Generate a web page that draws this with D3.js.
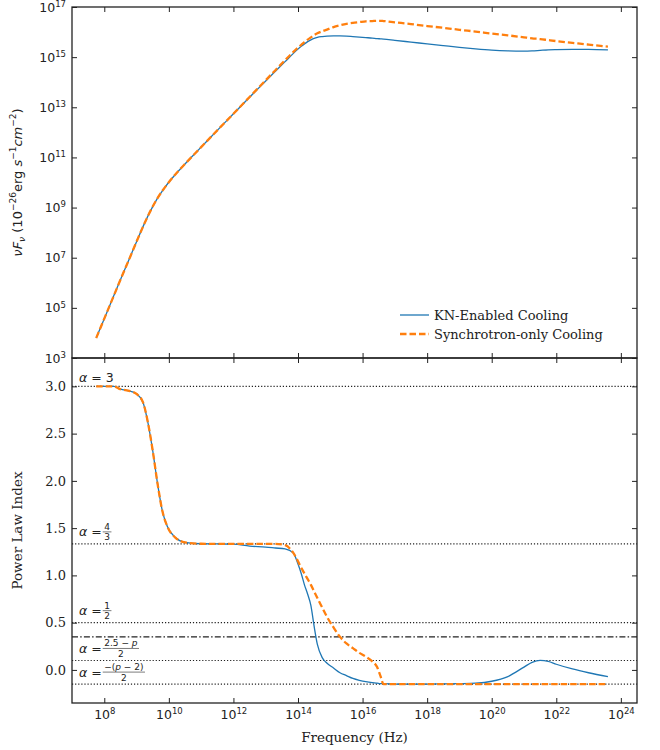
<!DOCTYPE html>
<html><head><meta charset="utf-8">
<script src="https://cdn.jsdelivr.net/npm/d3@7"></script>
<style>body{margin:0;background:#fff}text{font-family:"DejaVu Serif",serif;fill:#222}.m{font-family:"DejaVu Sans",sans-serif}</style>
</head><body><svg id="c" width="660" height="750"></svg>
<script>
// ---------- DATA ----------
// log10 of frequency (Hz)
const logFreq = [7.75,8.0,8.3,8.5,8.8,9.0,9.2,9.35,9.5,9.65,9.8,9.95,10.2,10.5,11.0,11.5,12.0,12.5,13.0,13.3,13.6,13.85,14.0,14.1,14.2,14.3,14.4,14.5,14.6,14.75,14.9,15.1,15.3,15.5,15.7,15.9,16.1,16.3,16.45,16.55,16.65,17.0,17.5,18.0,18.5,19.0,19.5,20.0,20.5,21.0,21.25,21.5,21.75,22.0,22.5,23.0,23.6];
// log10 of nuF_nu (1e-26 erg s^-1 cm^-2)
const knFluxExp = [3.8,4.57,5.5,6.12,7.03,7.64,8.24,8.66,9.04,9.38,9.67,9.93,10.32,10.74,11.41,12.08,12.74,13.40,14.05,14.44,14.82,15.14,15.32,15.43,15.53,15.62,15.69,15.75,15.79,15.82,15.84,15.85,15.85,15.84,15.82,15.80,15.78,15.76,15.74,15.73,15.72,15.67,15.60,15.53,15.46,15.39,15.33,15.28,15.25,15.24,15.25,15.27,15.29,15.30,15.31,15.31,15.29];
const synFluxExp = [3.8,4.57,5.5,6.12,7.03,7.64,8.24,8.66,9.04,9.38,9.67,9.93,10.32,10.74,11.41,12.08,12.74,13.41,14.08,14.48,14.88,15.20,15.38,15.49,15.60,15.70,15.79,15.88,15.95,16.03,16.10,16.20,16.27,16.33,16.37,16.40,16.43,16.44,16.45,16.45,16.44,16.39,16.32,16.24,16.17,16.09,16.02,15.94,15.87,15.79,15.75,15.72,15.68,15.64,15.57,15.50,15.42];
// power-law index
const knIndex = [3.0,3.0,3.0,2.97,2.95,2.92,2.83,2.62,2.32,1.97,1.68,1.52,1.40,1.35,1.335,1.333,1.33,1.31,1.30,1.29,1.28,1.24,1.12,1.02,0.90,0.80,0.68,0.46,0.27,0.13,0.07,0.02,-0.03,-0.06,-0.09,-0.11,-0.125,-0.135,-0.14,-0.145,-0.145,-0.15,-0.15,-0.15,-0.148,-0.145,-0.14,-0.12,-0.07,0.03,0.08,0.10,0.09,0.06,0.01,-0.03,-0.07];
const synIndex = [3.0,3.0,3.0,2.97,2.95,2.92,2.83,2.62,2.32,1.97,1.68,1.52,1.40,1.35,1.335,1.333,1.333,1.333,1.333,1.333,1.32,1.24,1.15,1.08,1.02,0.96,0.90,0.83,0.76,0.66,0.56,0.45,0.35,0.28,0.23,0.18,0.14,0.09,0.03,-0.06,-0.15,-0.15,-0.15,-0.15,-0.15,-0.15,-0.15,-0.15,-0.15,-0.15,-0.15,-0.15,-0.15,-0.15,-0.15,-0.15,-0.15];
const seriesNames = ["KN-Enabled Cooling","Synchrotron-only Cooling"];
const xTickExp = [8,10,12,14,16,18,20,22,24];
const yTopTickExp = [3,5,7,9,11,13,15,17];
const yBotTicks = [0.0,0.5,1.0,1.5,2.0,2.5,3.0];
const refValues = [3, 4/3, 1/2, 0.35, 0.1, -0.15];
const refKinds = ["dotted","dotted","dotted","dashdot","dotted","dotted"];
const refNum = ["3","4","1",null,"2.5 − p","−(p − 2)"];
const refDen = [null,"3","2",null,"2","2"];

// ---------- LAYOUT ----------
const L=72, R=637, T1=7, B1=358, B2=703;
const svg=d3.select("#c");
const x=d3.scaleLog().domain([1e7,10**24.5]).range([L,R]);
const yT=d3.scaleLog().domain([1e3,1e17]).range([B1,T1]);
const yB=d3.scaleLinear().domain([-0.35,3.3]).range([B2,B1]);
const colors=["#1f77b4","#ff7f0e"];

function supLabels(g){
  g.selectAll(".tick text").each(function(d){
    const e=Math.round(Math.log10(d));
    const t=d3.select(this).text(null).attr("class","m").attr("font-size","12.5px");
    t.append("tspan").text("10");
    t.append("tspan").attr("dy","-0.55em").attr("font-size","8.5px").text(e);
  });
}
function styleAxis(g){
  g.select(".domain").remove();
  g.selectAll(".tick line").attr("stroke","#222").attr("stroke-width",1);
  g.selectAll(".tick text").attr("font-size","13px").attr("fill","#333").attr("font-family",null);
}
const xt = xTickExp.map(e=>10**e);
// top panel axes
svg.append("g").attr("transform",`translate(0,${B1})`).call(d3.axisBottom(x).tickValues(xt).tickSize(-5).tickFormat("")).call(styleAxis);
svg.append("g").attr("transform",`translate(0,${T1})`).call(d3.axisTop(x).tickValues(xt).tickSize(-5).tickFormat("")).call(styleAxis);
svg.append("g").attr("transform",`translate(${L},0)`).call(d3.axisLeft(yT).tickValues(yTopTickExp.map(e=>10**e)).tickSize(-5).tickPadding(6)).call(styleAxis).call(supLabels);
svg.append("g").attr("transform",`translate(${R},0)`).call(d3.axisRight(yT).tickValues(yTopTickExp.map(e=>10**e)).tickSize(-5).tickFormat("")).call(styleAxis);
// bottom panel axes
svg.append("g").attr("transform",`translate(0,${B2})`).call(d3.axisBottom(x).tickValues(xt).tickSize(-5).tickPadding(7)).call(styleAxis).call(supLabels);
svg.append("g").attr("transform",`translate(0,${B1})`).call(d3.axisTop(x).tickValues(xt).tickSize(-5).tickFormat("")).call(styleAxis);
svg.append("g").attr("transform",`translate(${L},0)`).call(d3.axisLeft(yB).tickValues(yBotTicks).tickSize(-5).tickPadding(6).tickFormat(d3.format(".1f"))).call(styleAxis);
svg.append("g").attr("transform",`translate(${R},0)`).call(d3.axisRight(yB).tickValues(yBotTicks).tickSize(-5).tickFormat("")).call(styleAxis);

// reference lines
const dashes={dotted:"1.2,1.9",dashdot:"6,2.2,1.5,2.2"};
refValues.forEach((v,i)=>{
  svg.append("line").attr("x1",L).attr("x2",R).attr("y1",yB(v)).attr("y2",yB(v))
    .attr("stroke","#222").attr("stroke-width",1.1).attr("stroke-dasharray",dashes[refKinds[i]]);
});

// curves
svg.append("clipPath").attr("id","cT").append("rect").attr("x",L).attr("y",T1).attr("width",R-L).attr("height",B1-T1);
svg.append("clipPath").attr("id","cB").append("rect").attr("x",L).attr("y",B1).attr("width",R-L).attr("height",B2-B1);
const lineT=d3.line().curve(d3.curveMonotoneX).x(d=>x(10**d[0])).y(d=>yT(10**d[1]));
const lineB=d3.line().curve(d3.curveMonotoneX).x(d=>x(10**d[0])).y(d=>yB(d[1]));
const topData=[knFluxExp,synFluxExp].map(a=>logFreq.map((f,i)=>[f,a[i]]));
const botData=[knIndex,synIndex].map(a=>logFreq.map((f,i)=>[f,a[i]]));
function drawSeries(data,gen,clip){
  data.forEach((d,i)=>{
    svg.append("path").attr("d",gen(d)).attr("fill","none").attr("clip-path",`url(#${clip})`)
      .attr("stroke",colors[i]).attr("stroke-width",i?2.3:1.3)
      .attr("stroke-dasharray",i?"6.5,3":null);
  });
}
drawSeries(topData,lineT,"cT");
drawSeries(botData,lineB,"cB");

// frames
svg.append("rect").attr("x",L).attr("y",T1).attr("width",R-L).attr("height",B1-T1).attr("fill","none").attr("stroke","#222").attr("stroke-width",1.3);
svg.append("rect").attr("x",L).attr("y",B1).attr("width",R-L).attr("height",B2-B1).attr("fill","none").attr("stroke","#222").attr("stroke-width",1.3);

// reference labels (math text)
const lx=79;
refValues.forEach((v,i)=>{
  if(refNum[i]===null) return;
  const y0=yB(v);
  if(refDen[i]===null){
    const t=svg.append("text").attr("class","m").attr("x",lx).attr("y",y0-4).attr("font-size","12.5px");
    t.append("tspan").attr("font-style","italic").text("α");
    t.append("tspan").text(" = "+refNum[i]);
    return;
  }
  const bar=y0-12;
  const t=svg.append("text").attr("class","m").attr("x",lx).attr("y",bar+4.5).attr("font-size","12.5px");
  t.append("tspan").attr("font-style","italic").text("α");
  t.append("tspan").text(" = ");
  const fx=lx+t.node().getComputedTextLength()+1;
  const n=svg.append("text").attr("class","m").attr("y",bar-2).attr("font-size","9px").attr("text-anchor","middle");
  refNum[i].split(/(p)/).forEach(s=>{ if(s) n.append("tspan").attr("font-style",s==="p"?"italic":null).text(s); });
  const w=n.node().getComputedTextLength()+3;
  n.attr("x",fx+w/2);
  svg.append("line").attr("x1",fx).attr("x2",fx+w).attr("y1",bar).attr("y2",bar).attr("stroke","#444").attr("stroke-width",0.7);
  svg.append("text").attr("class","m").attr("x",fx+w/2).attr("y",bar+8.5).attr("font-size","9px").attr("text-anchor","middle").text(refDen[i]);
});

// legend
seriesNames.forEach((s,i)=>{
  const ly=315+i*19;
  svg.append("line").attr("x1",400).attr("x2",429).attr("y1",ly).attr("y2",ly)
    .attr("stroke",colors[i]).attr("stroke-width",i?2.3:1.3).attr("stroke-dasharray",i?"6.5,3":null);
  svg.append("text").attr("x",434).attr("y",ly+4.5).attr("font-size","13px").text(s);
});

// axis labels
const yl=svg.append("text").attr("class","m").attr("transform",`translate(22,${(T1+B1)/2}) rotate(-90)`).attr("text-anchor","middle").attr("font-size","13px");
yl.append("tspan").attr("font-style","italic").text("νF");
yl.append("tspan").attr("font-style","italic").attr("font-size","9px").attr("dy","3").text("ν");
yl.append("tspan").attr("dy","-3").text(" (10");
yl.append("tspan").attr("font-size","9px").attr("dy","-6").text("−26");
yl.append("tspan").attr("dy","6").text("erg ");
yl.append("tspan").attr("font-style","italic").text("s");
yl.append("tspan").attr("font-size","9px").attr("dy","-6").text("−1");
yl.append("tspan").attr("font-style","italic").attr("dy","6").text("cm");
yl.append("tspan").attr("font-size","9px").attr("dy","-6").text("−2");
yl.append("tspan").attr("dy","6").text(")");
svg.append("text").attr("transform",`translate(22,${(B1+B2)/2}) rotate(-90)`).attr("text-anchor","middle").attr("font-size","13.5px").text("Power Law Index");
svg.append("text").attr("x",(L+R)/2).attr("y",742).attr("text-anchor","middle").attr("font-size","13.5px").text("Frequency (Hz)");
</script></body></html>
